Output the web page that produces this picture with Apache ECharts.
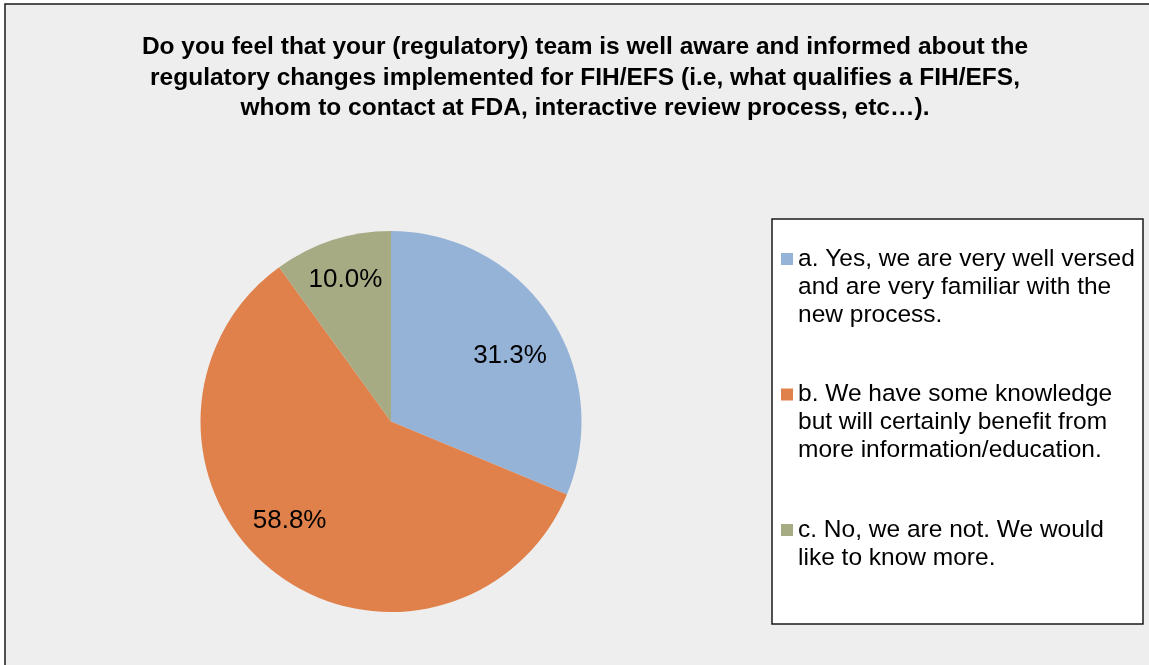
<!DOCTYPE html>
<html>
<head>
    <meta charset="UTF-8">
    <title>FIH/EFS survey</title>
    <script type="text/javascript" src="https://cdn.jsdelivr.net/npm/echarts@6/dist/echarts.min.js"></script>
    <style>
        html, body { margin: 0; padding: 0; background: #fff; }
        #main { width: 1149px; height: 665px; }
    </style>
</head>
<body>
<div id="main"></div>
<script type="text/javascript">
    // survey answers, share of respondents in %
    var categories = [
        'a. Yes, we are very well versed\nand are very familiar with the\nnew process.',
        'b. We have some knowledge\nbut will certainly benefit from\nmore information/education.',
        'c. No, we are not. We would\nlike to know more.'
    ];
    var shares = [31.3, 58.8, 10.0];
    var colors = ['#95b3d7', '#e0804a', '#a6ab83'];

    var titleText = 'Do you feel that your (regulatory) team is well aware and informed about the\n' +
        'regulatory changes implemented for FIH/EFS (i.e, what qualifies a FIH/EFS,\n' +
        'whom to contact at FDA, interactive review process, etc…).';

    // small nudges so the percent labels sit where the original put them
    var labelNudge = [[-1, 14], [-12, -14], [-1, -4]];

    var pieData = categories.map(function (name, i) {
        return {name: name, value: shares[i], itemStyle: {color: colors[i]}};
    });

    var myChart = echarts.init(document.getElementById('main'));
    var option = {
        backgroundColor: '#ffffff',
        animation: false,
        textStyle: {fontFamily: 'Liberation Sans, Arial, sans-serif'},
        graphic: [
            { // chart area
                type: 'rect',
                z: -10,
                shape: {x: 5, y: 4, width: 1160, height: 700},
                style: {fill: '#eeeeee', stroke: '#1a1a1a', lineWidth: 1.5}
            },
            { // legend box
                type: 'rect',
                z: -5,
                shape: {x: 772, y: 219, width: 371, height: 405},
                style: {fill: '#ffffff', stroke: '#1a1a1a', lineWidth: 1.5}
            }
        ],
        title: {
            text: titleText,
            left: 585,
            top: 32,
            padding: 0,
            textAlign: 'center',
            textStyle: {
                fontFamily: 'Liberation Sans, Arial, sans-serif',
                fontSize: 24.5,
                fontWeight: 'bold',
                lineHeight: 30.5,
                color: '#000'
            }
        },
        legend: {
            orient: 'vertical',
            left: 781,
            top: 189,
            padding: 0,
            itemGap: -4.5,
            itemWidth: 12,
            itemHeight: 12,
            icon: 'rect',
            selectedMode: false,
            data: categories,
            // blank lines around the name keep the marker on the first line
            formatter: function (name) {
                var n = name.split('\n').length;
                return '\n\n' + name + new Array(3 - n + 1).join('\n');
            },
            textStyle: {
                fontFamily: 'Liberation Sans, Arial, sans-serif',
                fontSize: 24.5,
                lineHeight: 28,
                color: '#000'
            }
        },
        series: [
            {
                name: 'answers',
                type: 'pie',
                center: [391, 421.5],
                radius: [0, 190.5],
                startAngle: 90,
                clockwise: true,
                label: {show: false},
                labelLine: {show: false},
                data: pieData
            },
            { // transparent ring only used to place the percent labels
                name: 'labels',
                type: 'pie',
                silent: true,
                center: [391, 421.5],
                radius: [92, 190.5],
                startAngle: 90,
                clockwise: true,
                itemStyle: {color: 'rgba(0,0,0,0)'},
                label: {
                    show: true,
                    position: 'inside',
                    fontFamily: 'Liberation Sans, Arial, sans-serif',
                    fontSize: 26,
                    color: '#000',
                    formatter: function (p) {
                        return p.value.toFixed(1) + '%';
                    }
                },
                labelLine: {show: false},
                data: categories.map(function (name, i) {
                    return {name: name, value: shares[i], label: {offset: labelNudge[i]}};
                })
            }
        ]
    };
    myChart.setOption(option);
</script>
</body>
</html>
